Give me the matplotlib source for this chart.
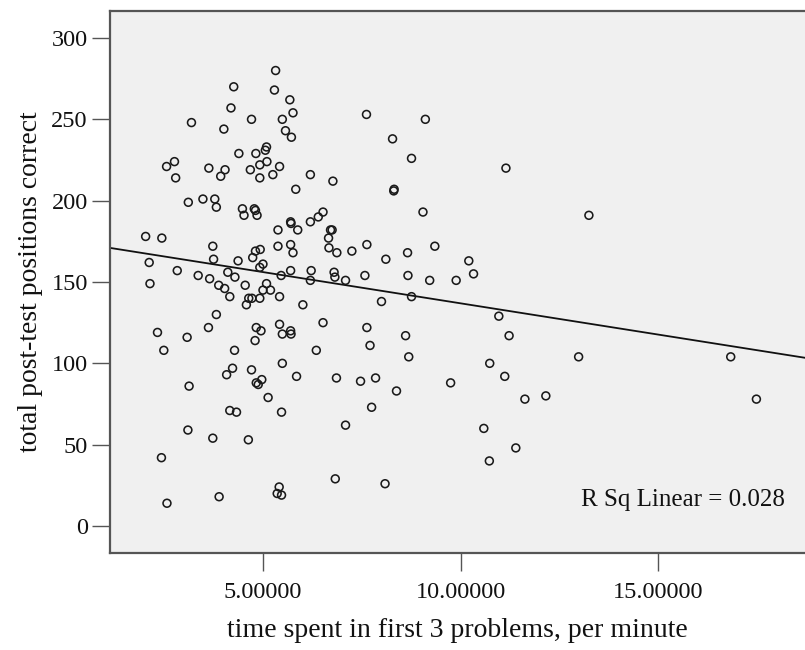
import numpy as np
import matplotlib
matplotlib.use('Agg')
import matplotlib.pyplot as plt
from matplotlib.ticker import FormatStrFormatter

# time spent in first 3 problems, per minute (x) and total post-test positions correct (y)
time_per_min = [
    5.32, 4.26, 5.29, 5.68, 4.19, 5.76, 3.19, 4.71, 5.49, 4.01,
    5.57, 5.72, 5.09, 5.06, 4.39, 4.82, 2.76, 2.56, 5.10, 4.92,
    3.63, 4.04, 4.68, 5.42, 2.79, 3.93, 4.92, 5.25, 6.20, 6.77,
    5.83, 3.11, 3.48, 3.78, 3.82, 4.48, 4.78, 4.81, 4.52, 4.85,
    5.70, 5.71, 6.20, 6.40, 6.52, 5.38, 5.88, 6.71, 6.75,
    7.62, 9.11, 8.28, 8.76, 11.15, 8.31, 8.32, 9.05,
    2.03, 2.44, 3.73, 3.75, 2.12, 2.83, 2.14, 3.36, 3.65, 4.11,
    4.29, 4.37, 3.88, 4.03, 4.16, 4.55, 4.74, 4.81, 4.93, 5.00,
    4.92, 5.09, 5.00, 5.19, 4.92, 4.64, 4.72, 4.58, 5.42, 5.46,
    5.38, 5.70, 5.76, 5.70, 6.22, 6.20, 6.66, 6.67, 6.87, 6.80,
    6.82, 7.09, 7.25, 6.01, 3.82, 3.62, 2.33, 3.08, 2.49, 4.83,
    4.95, 4.80, 5.42, 5.49, 5.70, 5.71, 6.52, 6.35, 4.28, 5.49,
    4.23, 4.08, 4.71, 4.97, 4.83, 4.88, 5.85, 6.86, 3.13, 5.13,
    4.16, 4.33, 5.47,
    7.63, 8.11, 8.66, 9.35, 10.21, 10.33, 9.89, 9.22, 8.67, 7.58,
    8.00, 8.76, 10.97, 11.23, 7.63, 8.61, 7.71, 8.69, 10.74, 11.12,
    7.47, 7.85, 8.38, 9.75, 7.75, 11.63, 12.16,
    3.10, 3.73, 4.63, 7.09, 2.43, 6.83, 5.41, 5.36, 5.47, 3.89,
    2.57, 10.59, 11.40, 10.73, 8.09,
    13.25, 12.99, 16.84, 17.49,
]
positions_correct = [
    280, 270, 268, 262, 257, 254, 248, 250, 250, 244,
    243, 239, 233, 231, 229, 229, 224, 221, 224, 222,
    220, 219, 219, 221, 214, 215, 214, 216, 216, 212,
    207, 199, 201, 201, 196, 195, 195, 194, 191, 191,
    187, 186, 187, 190, 193, 182, 182, 182, 182,
    253, 250, 238, 226, 220, 206, 207, 193,
    178, 177, 172, 164, 162, 157, 149, 154, 152, 156,
    153, 163, 148, 146, 141, 148, 165, 169, 170, 161,
    159, 149, 145, 145, 140, 140, 140, 136, 141, 154,
    172, 173, 168, 157, 157, 151, 177, 171, 168, 156,
    153, 151, 169, 136, 130, 122, 119, 116, 108, 122,
    120, 114, 124, 118, 120, 118, 125, 108, 108, 100,
    97, 93, 96, 90, 88, 87, 92, 91, 86, 79,
    71, 70, 70,
    173, 164, 168, 172, 163, 155, 151, 151, 154, 154,
    138, 141, 129, 117, 122, 117, 111, 104, 100, 92,
    89, 91, 83, 88, 73, 78, 80,
    59, 54, 53, 62, 42, 29, 24, 20, 19, 18,
    14, 60, 48, 40, 26,
    191, 104, 104, 78,
]

# fitted linear regression
fit_intercept = 175.3
fit_slope = -3.84
r_sq_label = 'R Sq Linear = 0.028'

x_ticks = [5.0, 10.0, 15.0]
y_ticks = [0, 50, 100, 150, 200, 250, 300]

plt.rcParams['font.family'] = ['Liberation Serif', 'DejaVu Serif']

fig = plt.figure(figsize=(8.05, 6.5), dpi=100)
ax = fig.add_axes([0.1366, 0.1492, 0.8634, 0.8339])
ax.set_facecolor('#f0f0f0')

ax.scatter(time_per_min, positions_correct, s=32, facecolor='none',
           edgecolor='#1a1a1a', linewidth=1.15, zorder=3)
ax.axline((0, fit_intercept), slope=fit_slope, color='#111111', linewidth=1.3, zorder=2)

ax.set_xlim(1.127, 18.72)
ax.set_ylim(-16.6, 316.6)
ax.set_xticks(x_ticks)
ax.set_yticks(y_ticks)
ax.xaxis.set_major_formatter(FormatStrFormatter('%.5f'))

for side in ['left', 'bottom', 'top']:
    ax.spines[side].set_color('#555555')
    ax.spines[side].set_linewidth(1.6)
ax.spines['right'].set_visible(False)

ax.tick_params(axis='both', direction='out', length=13, width=1.0, color='#555555',
               labelsize=17.5, labelcolor='#111111')
ax.tick_params(axis='x', pad=8)
ax.tick_params(axis='y', pad=3)

ax.set_xlabel('time spent in first 3 problems, per minute', fontsize=20, color='#111111', labelpad=11)
ax.set_ylabel('total post-test positions correct', fontsize=20, color='#111111', labelpad=6)

ax.text(0.971, 0.098, r_sq_label, transform=ax.transAxes, ha='right', va='center',
        fontsize=18, color='#111111')

fig.savefig('out.png', dpi=100)
